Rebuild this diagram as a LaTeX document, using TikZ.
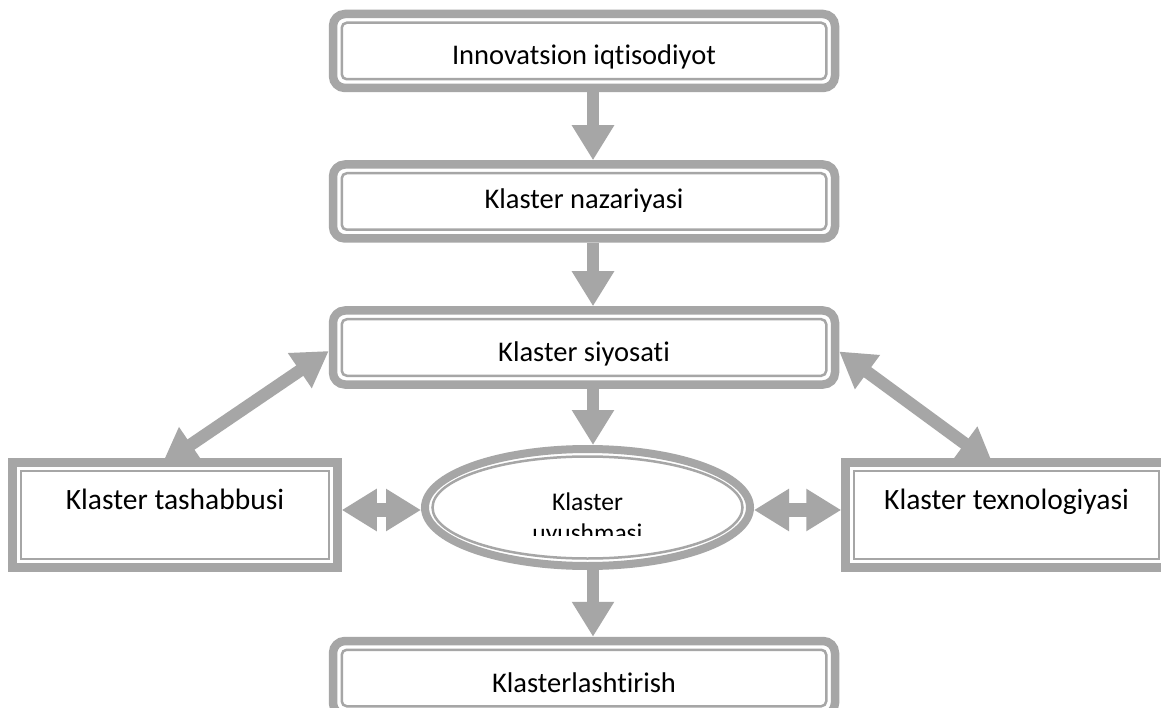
\documentclass[tikz,border=0pt]{standalone}
\usepackage{fontspec}
\setmainfont{Carlito}[Ligatures={NoCommon}]
\usetikzlibrary{positioning,shapes.geometric,arrows.meta,calc}
\definecolor{linegray}{HTML}{A6A6A6}
\pgfdeclarelayer{bg}
\pgfsetlayers{bg,main}

\begin{document}
\begin{tikzpicture}[x=1pt,y=-1pt,>={Triangle[length=35pt,width=40pt]},
    every node/.style={font=\fontsize{28.5}{34}\selectfont},
    main box/.style={rectangle,rounded corners=12pt,draw=linegray,fill=white,line width=8.5pt,
        minimum width=502pt,minimum height=74pt,text height=28pt,text depth=0pt,inner sep=0pt},
    side box/.style={rectangle,draw=linegray,fill=white,line width=8.5pt,
        font=\fontsize{29.5}{35}\selectfont,
        minimum height=105pt,text height=0pt,text depth=12pt,inner sep=0pt},
    ell/.style={ellipse,draw=linegray,fill=white,line width=8pt,minimum width=325pt,
        font=\fontsize{25.5}{31}\selectfont,
        minimum height=117pt,text height=5pt,text depth=0pt,inner sep=0pt},
    inner line/.style={draw=linegray,line width=2.5pt},
    flow/.style={->,draw=linegray,line width=12.5pt}
   ]
  \clip (0,0) rectangle (1161,708);

  \node[main box] (innov) at (584,51) {Innovatsion iqtisodiyot};
  \node[main box,text height=14pt] (nazar) at (584,201.5) {Klaster nazariyasi};
  \node[main box] (siyos) at (584,347.5) {Klaster siyosati};
  \node[main box] (klast) at (584,678) {Klasterlashtirish};
  \node[side box,minimum width=325pt] (tash) at (175,515) {Klaster tashabbusi};
  \node[side box,minimum width=322pt] (texn) at (1006.5,515) {Klaster texnologiyasi};
  \node[ell] (uyush) at (587.5,507.5) {Klaster};
  \begin{scope}
    \clip (430,520) rectangle (750,535.5); % second line is cut off
    \node[anchor=base,font=\fontsize{25.5}{31}\selectfont] (uyush2) at (587.5,541) {uyushmasi};
  \end{scope}

  % descenders cut off by the text box
  \foreach \n/\h in {innov/23.25,nazar/31,siyos/23.25}
    \fill[white] ([xshift=14pt,yshift=14pt]\n.south west) rectangle ([xshift=-14pt,yshift=\h pt]\n.south east);

  % thin inner lines
  \foreach \n in {innov,nazar,siyos,klast}
    \draw[inner line,rounded corners=5pt] ([xshift=13pt,yshift=13pt]\n.south west)
      rectangle ([xshift=-13pt,yshift=-13pt]\n.north east);
  \foreach \n in {tash,texn}
    \draw[inner line] ([xshift=12.75pt,yshift=12.75pt]\n.south west)
      rectangle ([xshift=-12.75pt,yshift=-12.75pt]\n.north east);
  \draw[inner line] (uyush.center) ellipse [x radius=155pt,y radius=51pt];

  \coordinate (tl) at ([yshift=5pt]tash.east);
  \coordinate (tr) at ([yshift=5pt]texn.west);

  \begin{pgfonlayer}{bg}
    \fill[white] (0,0) rectangle (1161,708);
    \draw[flow] ([xshift=9pt]innov.south) -- ([xshift=9pt]nazar.north);
    \draw[flow] ([xshift=9pt]nazar.south) -- ([xshift=9pt]siyos.north);
    \draw[flow] ([xshift=9pt]siyos.south) -- ([xshift=5.5pt]uyush.north);
    \draw[flow] ([xshift=5.5pt]uyush.south) -- ([xshift=9pt]klast.north);
    \draw[flow,<->] ([yshift=-3.5pt]siyos.west) -- ([xshift=-13pt,yshift=-6pt]tash.north);
    \draw[flow,<->] ([yshift=-4pt]siyos.east) -- ([xshift=-13.5pt,yshift=-6pt]texn.north);
    \draw[flow,<->,line width=14pt] (tl) -- (tl -| uyush.west);
    \draw[flow,<->,line width=14pt] (tr -| uyush.east) -- (tr);
  \end{pgfonlayer}
\end{tikzpicture}
\end{document}
